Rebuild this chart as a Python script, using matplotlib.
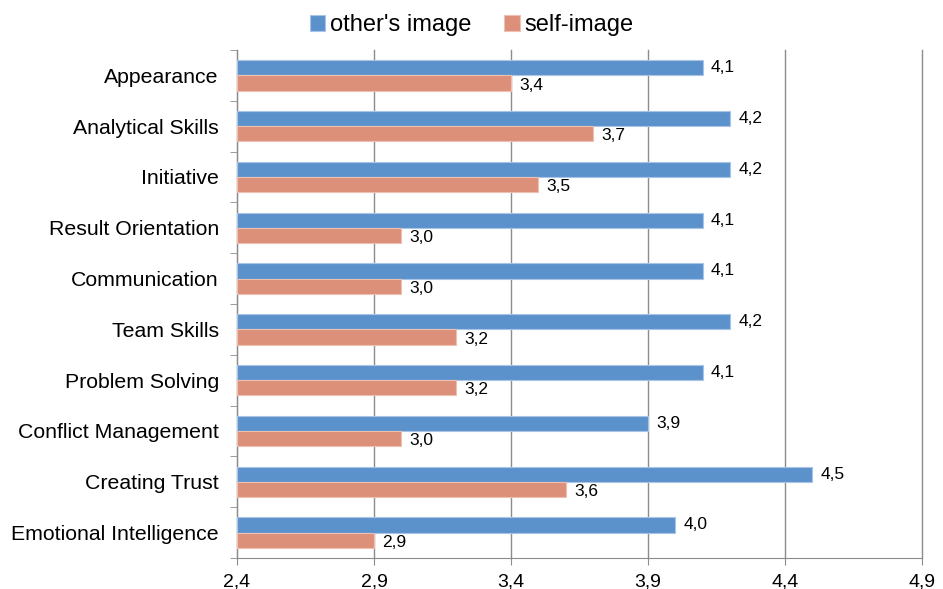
import numpy as np
import matplotlib.pyplot as plt
from matplotlib.ticker import FuncFormatter

plt.rcParams['font.family'] = ['Liberation Sans', 'DejaVu Sans']

# data, top to bottom as in the chart
categories = ["Appearance", "Analytical Skills", "Initiative", "Result Orientation",
              "Communication", "Team Skills", "Problem Solving", "Conflict Management",
              "Creating Trust", "Emotional Intelligence"]
others_image = [4.1, 4.2, 4.2, 4.1, 4.1, 4.2, 4.1, 3.9, 4.5, 4.0]
self_image = [3.4, 3.7, 3.5, 3.0, 3.0, 3.2, 3.2, 3.0, 3.6, 2.9]
xticks = [2.4, 2.9, 3.4, 3.9, 4.4, 4.9]

blue = "#5b92cc"
salmon = "#dc907a"

fig = plt.figure(figsize=(9.43, 5.89), dpi=100)
ax = fig.add_axes([237 / 943, 31 / 589, 685 / 943, 508 / 589])

n = len(categories)
y = np.arange(n)[::-1]
h = 0.3
xmin = xticks[0]

ax.barh(y + h / 2, np.array(others_image) - xmin, height=h, left=xmin, color=blue,
        edgecolor="#a9c4e6", linewidth=0.8, label="other's image", zorder=3)
ax.barh(y - h / 2, np.array(self_image) - xmin, height=h, left=xmin, color=salmon,
        edgecolor="#eec0b2", linewidth=0.8, label="self-image", zorder=3)

fmt = lambda v: f"{v:.1f}".replace(".", ",")
for yi, v in zip(y, others_image):
    ax.text(v + 0.03, yi + h / 2, fmt(v), va="center", ha="left", fontsize=12.5)
for yi, v in zip(y, self_image):
    ax.text(v + 0.03, yi - h / 2 - 0.04, fmt(v), va="center", ha="left", fontsize=12.5)

ax.set_xlim(xticks[0], xticks[-1])
ax.set_ylim(-0.5, n - 0.5)
ax.set_xticks(xticks)
ax.xaxis.set_major_formatter(FuncFormatter(lambda v, p: fmt(v)))
ax.set_yticks(y)
ax.set_yticklabels(categories, fontsize=15.3)
ax.set_yticks(np.arange(n + 1) - 0.5, minor=True)
ax.tick_params(axis="y", which="major", length=0, pad=13)
ax.tick_params(axis="y", which="minor", length=5, color="#8c8c8c")
ax.tick_params(axis="x", length=5, color="#8c8c8c", labelsize=14, pad=6)

ax.grid(axis="x", color="#8c8c8c", linewidth=1, zorder=0)
for line in ax.get_xgridlines():
    line.set_clip_on(False)
for s in ["top", "right"]:
    ax.spines[s].set_visible(False)
for s in ["left", "bottom"]:
    ax.spines[s].set_color("#8c8c8c")

fig.legend(loc="upper center", bbox_to_anchor=(0.5, 1.012), ncol=2, frameon=False,
           fontsize=17, handlelength=0.65, handleheight=0.65, handletextpad=0.2,
           columnspacing=1.4)

fig.savefig("out.png", dpi=100)
